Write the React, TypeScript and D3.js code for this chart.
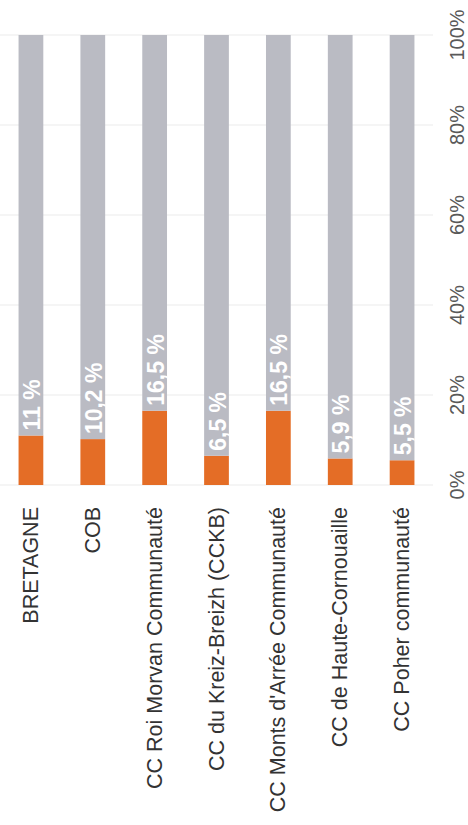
import React from "react";
import * as d3 from "d3";

const categories = [
  "BRETAGNE",
  "COB",
  "CC Roi Morvan Communauté",
  "CC du Kreiz-Breizh (CCKB)",
  "CC Monts d'Arrée Communauté",
  "CC de Haute-Cornouaille",
  "CC Poher communauté",
];
const shareValues = [11, 10.2, 16.5, 6.5, 16.5, 5.9, 5.5];
const valueLabels = ["11 %", "10,2 %", "16,5 %", "6,5 %", "16,5 %", "5,9 %", "5,5 %"];
const tickValues = [0, 20, 40, 60, 80, 100];
const tickLabels = ["0%", "20%", "40%", "60%", "80%", "100%"];

const W = 468;
const H = 825;
const ORANGE = "#e46d26";
const GRAY = "#babbc3";

export default function App() {
  const x = d3.scaleBand<string>().domain(categories).range([0, 433]).paddingInner(0.6).paddingOuter(0.3);
  const y = d3.scaleLinear().domain([0, 100]).range([485, 35]);
  const stack = d3.stack<any>().keys(["a", "b"]);
  const rows = categories.map((c, i) => ({ cat: c, a: shareValues[i], b: 100 - shareValues[i] }));
  const series = stack(rows);
  const colors = [ORANGE, GRAY];
  const font = "'Liberation Sans', Arial, sans-serif";

  return (
    <svg width={W} height={H} style={{ position: "absolute", left: 0, top: 0, background: "#fff" }}>
      <rect width={W} height={H} fill="#fff" />
      {tickValues.map((t) => (
        <line key={t} x1={0} x2={433} y1={y(t)} y2={y(t)} stroke="#ebebeb" strokeWidth={1} />
      ))}
      {series.map((s, si) => (
        <g key={si} fill={colors[si]}>
          {s.map((d, i) => (
            <rect
              key={i}
              x={x(categories[i])}
              width={x.bandwidth()}
              y={y(d[1])}
              height={y(d[0]) - y(d[1])}
            />
          ))}
        </g>
      ))}
      {categories.map((c, i) => {
        const cx = (x(c) as number) + x.bandwidth() / 2;
        const vy = y(shareValues[i]) - 5;
        return (
          <text
            key={"v" + i}
            transform={`translate(${cx + 1},${vy}) rotate(-90)`}
            textAnchor="start"
            dominantBaseline="central"
            fill="#ffffff"
            fontWeight="bold"
            fontSize={23}
            fontFamily={font}
          >
            {valueLabels[i]}
          </text>
        );
      })}
      {categories.map((c, i) => {
        const cx = (x(c) as number) + x.bandwidth() / 2;
        return (
          <text
            key={"c" + i}
            transform={`translate(${cx},507) rotate(-90)`}
            textAnchor="end"
            dominantBaseline="central"
            fill="#333333"
            fontSize={21.5}
            fontFamily={font}
          >
            {c}
          </text>
        );
      })}
      {tickValues.map((t, i) => (
        <text
          key={"t" + i}
          transform={`translate(457,${y(t)}) rotate(-90)`}
          textAnchor="middle"
          dominantBaseline="central"
          fill="#595959"
          fontSize={20}
          fontFamily={font}
        >
          {tickLabels[i]}
        </text>
      ))}
    </svg>
  );
}
